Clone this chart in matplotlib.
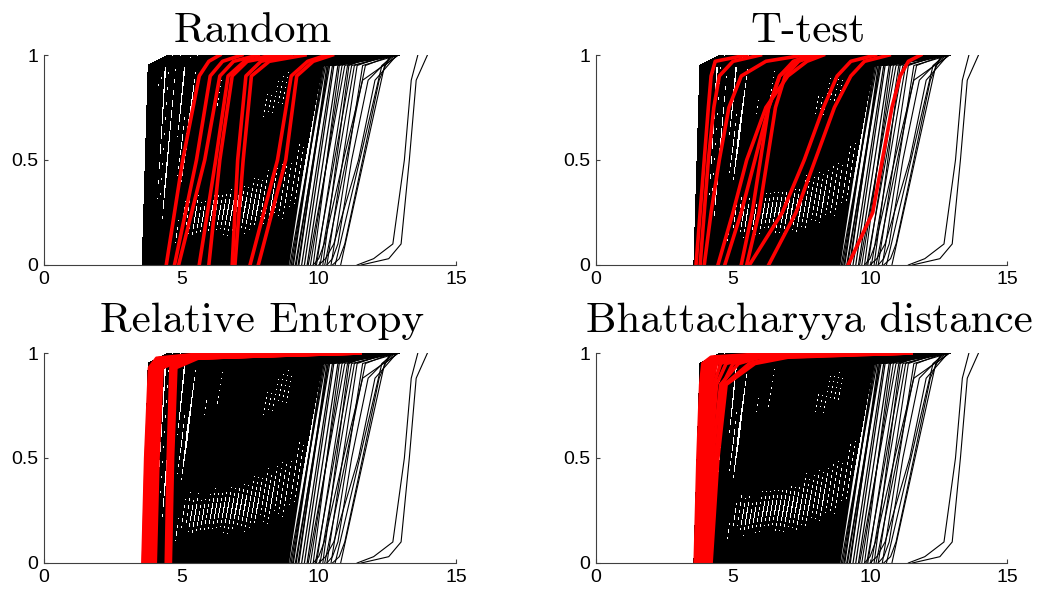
"""
Empirical CDFs of all candidate sets (black) with the sets picked by
each selection criterion highlighted in red.
"""

import matplotlib
matplotlib.use('Agg')
import matplotlib.pyplot as plt

# ---- black background curves (same in every panel) ----
# x where each curve reaches y = 0, 0.95 and 1
black_y = [0.0, 0.95, 1.0]
black_x0 = [3.60, 3.62, 3.63, 3.65, 3.66, 3.68, 3.70, 3.71, 3.73, 3.75, 3.78, 3.80, 3.84, 3.90,
            3.95, 4.02, 4.08, 4.15, 4.20, 4.27, 4.33, 4.40, 4.46, 4.52, 4.60, 4.66, 4.73, 4.80,
            4.86, 4.93, 5.00, 5.07, 5.13, 5.20, 5.27, 5.34, 5.40, 5.48, 5.55, 5.62, 5.68, 5.75,
            5.83, 5.90, 5.97, 6.04, 6.10, 6.18, 6.25, 6.32, 6.40, 6.47, 6.55, 6.62, 6.70, 6.78,
            6.85, 6.93, 7.00, 7.08, 7.15, 7.23, 7.30, 7.38, 7.46, 7.55, 7.62, 7.70, 7.78, 7.86,
            7.95, 8.03, 8.12, 8.20, 8.28, 8.37, 8.45, 8.55, 8.63, 8.72, 8.80, 8.90, 9.00, 9.08,
            9.18, 9.28, 9.38, 9.48, 9.58]
black_x95 = [3.82, 3.85, 3.88, 3.86, 3.92, 3.90, 3.95, 3.98, 3.96, 4.02, 4.05, 4.10, 4.15, 4.25,
             4.35, 4.50, 4.70, 4.62, 4.90, 5.05, 4.95, 5.30, 5.20, 5.45, 5.70, 5.35, 5.80, 5.65,
             6.00, 5.90, 6.20, 5.95, 6.35, 6.15, 6.50, 6.30, 6.70, 6.45, 6.85, 6.60, 6.95, 6.80,
             7.15, 6.95, 7.30, 7.10, 7.45, 7.25, 7.60, 7.40, 7.75, 7.55, 7.90, 7.70, 8.05, 7.85,
             8.20, 8.00, 8.40, 8.15, 8.55, 8.35, 8.70, 8.50, 8.85, 8.70, 9.00, 8.85, 9.15, 9.00,
             9.30, 9.20, 9.45, 9.35, 9.60, 9.50, 9.75, 9.70, 9.90, 9.85, 10.05, 10.00, 10.20, 10.15,
             10.35, 10.30, 10.50, 10.55, 10.70]
black_x100 = [4.6, 5.5, 7.0, 4.9, 9.0, 6.2, 11.0, 5.2, 8.0, 12.2, 6.8, 10.0, 7.5, 12.9,
              6.0, 9.5, 5.8, 11.5, 7.2, 12.6, 8.3, 6.6, 10.8, 7.9, 12.0, 9.2, 7.0, 11.2,
              8.8, 12.8, 7.6, 10.3, 9.0, 12.4, 8.1, 11.7, 9.6, 12.9, 8.4, 10.9, 12.2, 9.9,
              11.4, 8.9, 12.7, 10.5, 9.3, 12.1, 11.0, 9.8, 12.5, 10.7, 11.8, 10.2, 12.9, 11.3,
              10.0, 12.3, 11.6, 10.6, 12.8, 11.1, 12.0, 10.9, 12.6, 11.5, 12.2, 11.0, 12.9, 11.8,
              12.4, 11.4, 12.7, 12.0, 12.5, 11.9, 12.8, 12.3, 12.9, 12.1, 12.6, 12.4, 12.9, 12.7,
              12.8, 12.5, 12.9, 12.7, 12.9]

# a second batch filling the middle of the bundle
black2_x0 = [4.05, 4.12, 4.18, 4.24, 4.30, 4.37, 4.43, 4.49, 4.56, 4.63,
             4.70, 4.76, 4.83, 4.90, 4.97, 5.03, 5.10, 5.17, 5.24, 5.30,
             5.37, 5.44, 5.51, 5.58, 5.65, 5.72, 5.79, 5.86, 5.93, 6.00,
             6.07, 6.14, 6.21, 6.29, 6.36, 6.44, 6.51, 6.58, 6.66, 6.74,
             6.81, 6.89, 6.96, 7.04, 7.12, 7.19, 7.27, 7.34, 7.42, 7.50,
             7.58, 7.66, 7.74, 7.82, 7.90, 7.99, 8.07, 8.16, 8.24, 8.33,
             8.41, 8.50, 8.59, 8.68, 8.76, 8.85, 8.95, 9.05, 9.15, 9.25]
black2_x95 = [4.75, 4.60, 5.00, 4.85, 5.25, 5.05, 5.50, 5.20, 5.75, 5.40,
              5.95, 5.60, 6.10, 5.85, 6.30, 6.05, 6.45, 6.25, 6.65, 6.40,
              6.80, 6.60, 6.95, 6.75, 7.10, 6.90, 7.25, 7.05, 7.40, 7.20,
              7.55, 7.35, 7.70, 7.50, 7.85, 7.65, 8.00, 7.80, 8.15, 7.95,
              8.30, 8.10, 8.45, 8.25, 8.60, 8.40, 8.75, 8.55, 8.90, 8.70,
              9.05, 8.85, 9.20, 9.00, 9.35, 9.15, 9.50, 9.30, 9.65, 9.45,
              9.80, 9.60, 9.95, 9.80, 10.10, 9.95, 10.25, 10.15, 10.40, 10.35]
black2_x100 = [7.8, 10.2, 6.4, 12.3, 8.6, 11.0, 7.3, 12.7, 9.4, 10.6,
               8.0, 12.1, 9.7, 11.6, 8.2, 12.9, 10.1, 9.1, 12.4, 10.8,
               9.5, 12.0, 11.3, 10.0, 12.6, 10.4, 11.9, 9.8, 12.8, 11.1,
               10.6, 12.2, 11.5, 10.3, 12.9, 11.2, 12.4, 10.9, 12.7, 11.7,
               12.0, 11.4, 12.8, 11.9, 12.3, 11.6, 12.9, 12.1, 12.5, 11.8,
               12.7, 12.2, 12.9, 12.4, 12.6, 12.0, 12.8, 12.5, 12.9, 12.3,
               12.7, 12.6, 12.9, 12.8, 12.5, 12.9, 12.7, 12.9, 12.8, 12.9]

# sparse curves on the right edge of the bundle
edge_x0 = [9.70, 9.80, 9.92, 10.05, 10.15, 10.30, 10.45, 10.60, 10.80, 9.62, 9.88, 10.22]
edge_x95 = [10.85, 10.75, 11.05, 11.30, 11.10, 11.40, 11.60, 12.30, 12.40, 10.95, 11.20, 11.70]
edge_x100 = [11.6, 11.4, 12.2, 12.6, 12.0, 12.5, 12.9, 12.8, 12.9, 12.4, 12.8, 12.7]

# slow curves on the far right, with a long foot
slow_y = [0.0, 0.03, 0.1, 0.5, 0.88, 1.0]
slow_curves = [[11.55, 12.55, 13.00, 13.30, 13.55, 13.96],
               [11.40, 12.00, 12.70, 13.12, 13.37, 13.61],
               [10.50, 10.75, 10.95, 11.60, 12.20, 12.60],
               [10.00, 10.25, 10.55, 11.45, 12.05, 12.85],
               [9.80, 10.00, 10.20, 10.90, 11.60, 12.90],
               [10.30, 10.50, 10.70, 11.20, 11.80, 12.70]]

# ---- red curves (selected sets) ----
random_y = [0.0, 0.5, 0.9, 0.97, 1.0]
random_red = [[4.45, 5.05, 5.65, 6.00, 6.40],
              [4.75, 5.55, 6.05, 6.50, 7.20],
              [4.90, 5.85, 6.40, 6.90, 7.80],
              [5.65, 6.25, 6.70, 7.30, 8.30],
              [6.00, 6.40, 6.85, 7.40, 8.60],
              [6.85, 7.05, 7.35, 7.90, 9.00],
              [6.95, 7.25, 7.55, 8.20, 9.50],
              [7.50, 8.50, 9.00, 9.60, 10.30],
              [7.80, 8.80, 9.20, 9.80, 10.50]]

ttest_y = [0.0, 0.25, 0.5, 0.75, 0.9, 0.97, 1.0]
ttest_red = [[3.65, 3.80, 3.95, 4.10, 4.20, 4.35, 5.50],
             [3.80, 3.95, 4.10, 4.30, 4.50, 5.00, 6.00],
             [3.95, 4.20, 4.50, 4.85, 5.30, 6.20, 7.60],
             [4.45, 5.00, 5.50, 6.20, 7.00, 7.70, 8.30],
             [4.70, 5.30, 5.80, 6.30, 6.70, 7.30, 8.10],
             [5.30, 5.70, 6.00, 6.30, 6.70, 7.20, 7.80],
             [5.50, 5.95, 6.25, 6.55, 6.90, 7.40, 8.00],
             [5.60, 6.80, 7.60, 8.30, 8.80, 9.30, 10.20],
             [6.30, 7.30, 8.00, 8.70, 9.30, 9.80, 10.70],
             [9.20, 10.10, 10.45, 10.80, 11.10, 11.40, 11.85]]

relent_y = [0.0, 0.5, 0.93, 0.975, 1.0]
relent_red = [[3.60, 3.70, 3.84, 4.10, 6.0],
              [3.62, 3.72, 3.87, 4.30, 9.0],
              [3.64, 3.75, 3.90, 4.20, 11.5],
              [3.66, 3.77, 3.92, 4.40, 7.5],
              [3.68, 3.80, 3.95, 4.25, 10.5],
              [3.70, 3.82, 3.97, 4.60, 11.0],
              [3.72, 3.84, 4.00, 4.35, 8.5],
              [3.75, 3.87, 4.03, 4.50, 11.5],
              [3.78, 3.90, 4.06, 4.80, 10.0],
              [3.80, 3.92, 4.08, 4.40, 6.8],
              [3.83, 3.95, 4.12, 4.70, 11.2],
              [3.86, 3.98, 4.15, 4.55, 9.5],
              [3.90, 4.02, 4.18, 4.90, 11.5],
              [3.95, 4.06, 4.22, 4.60, 10.8],
              [4.00, 4.10, 4.26, 4.75, 8.0],
              [4.05, 4.15, 4.30, 5.20, 11.4],
              [4.45, 4.52, 4.62, 5.00, 9.0],
              [4.50, 4.58, 4.68, 5.40, 11.0],
              [4.55, 4.63, 4.75, 5.10, 11.5],
              [4.60, 4.68, 4.80, 5.60, 10.2]]

bhatt_y = [0.0, 0.5, 0.85, 0.95, 0.98, 1.0]
bhatt_red = [[3.62, 3.72, 3.82, 3.90, 4.20, 6.5],
             [3.64, 3.75, 3.85, 3.95, 4.40, 9.5],
             [3.66, 3.78, 3.88, 3.98, 4.30, 11.5],
             [3.68, 3.80, 3.90, 4.02, 4.60, 8.0],
             [3.70, 3.83, 3.94, 4.05, 4.50, 11.0],
             [3.73, 3.86, 3.97, 4.10, 4.80, 10.5],
             [3.76, 3.90, 4.02, 4.15, 4.70, 11.5],
             [3.80, 3.95, 4.08, 4.22, 5.00, 7.2],
             [3.84, 4.00, 4.15, 4.30, 4.90, 11.3],
             [3.88, 4.05, 4.20, 4.40, 5.30, 10.0],
             [3.92, 4.10, 4.30, 4.55, 5.10, 11.5],
             [3.97, 4.18, 4.40, 4.75, 5.60, 9.0],
             [4.02, 4.25, 4.55, 5.20, 6.00, 11.0],
             [4.08, 4.35, 4.70, 5.60, 6.50, 11.5],
             [4.15, 4.40, 4.62, 5.00, 5.80, 10.5],
             [4.20, 4.45, 4.75, 5.80, 7.00, 11.4]]

panel_titles = ['Random', 'T-test', 'Relative Entropy', 'Bhattacharyya distance']
panel_red = [(random_y, random_red), (ttest_y, ttest_red),
             (relent_y, relent_red), (bhatt_y, bhatt_red)]
x_ticks = [0, 5, 10, 15]
y_ticks = [0, 0.5, 1]
y_ticklabels = ['0', '0.5', '1']

# layout (figure fractions)
axes_rects = [[0.0416, 0.5554, 0.3890, 0.3523],
              [0.5628, 0.5554, 0.3881, 0.3523],
              [0.0416, 0.0554, 0.3890, 0.3523],
              [0.5628, 0.0554, 0.3881, 0.3523]]
title_x = [0.507, 0.516, 0.53, 0.52]
title_pad = [9.5, 9.5, 15, 15]


def draw_bundle(ax, xs0, xs95, xs100):
    # the packed middle is drawn aliased so overlapping strokes close up,
    # the thinner right side stays smooth
    for x0, x95, x100 in zip(xs0, xs95, xs100):
        if x0 < 8.9:
            ax.plot([x0, x95, x100], black_y, color='k', lw=1.1, antialiased=False)
        else:
            ax.plot([x0, x95, x100], black_y, color='k', lw=0.9)


def draw_panel(ax, title, red_y, red_curves, tx, pad):
    draw_bundle(ax, black_x0, black_x95, black_x100)
    draw_bundle(ax, black2_x0, black2_x95, black2_x100)
    for x0, x95, x100 in zip(edge_x0, edge_x95, edge_x100):
        ax.plot([x0, x95, x100], black_y, color='k', lw=0.8)
    for xs in slow_curves:
        ax.plot(xs, slow_y, color='k', lw=0.8)
    for xs in red_curves:
        ax.plot(xs, red_y, color='#ff0000', lw=2.6, solid_joinstyle='round')

    ax.set_xlim(0, 15)
    ax.set_ylim(0, 1)
    ax.set_xticks(x_ticks)
    ax.set_xticklabels([str(t) for t in x_ticks])
    ax.set_yticks(y_ticks)
    ax.set_yticklabels(y_ticklabels)
    for side in ['top', 'right']:
        ax.spines[side].set_visible(False)
    for side in ['left', 'bottom']:
        ax.spines[side].set_color('0.25')
        ax.spines[side].set_linewidth(0.8)
    ax.tick_params(direction='in', length=3, width=0.8, color='0.25', pad=4,
                   labelsize=14)
    for lab in ax.get_xticklabels() + ax.get_yticklabels():
        lab.set_family('Liberation Sans')
    ax.set_title(title, fontfamily='cmr10', fontsize=31, x=tx, pad=pad)


fig = plt.figure(figsize=(10.59, 5.96), dpi=100)
for i, rect in enumerate(axes_rects):
    ax = fig.add_axes(rect)
    ry, rc = panel_red[i]
    draw_panel(ax, panel_titles[i], ry, rc, title_x[i], title_pad[i])

fig.savefig('out.png', dpi=100)
plt.close(fig)
